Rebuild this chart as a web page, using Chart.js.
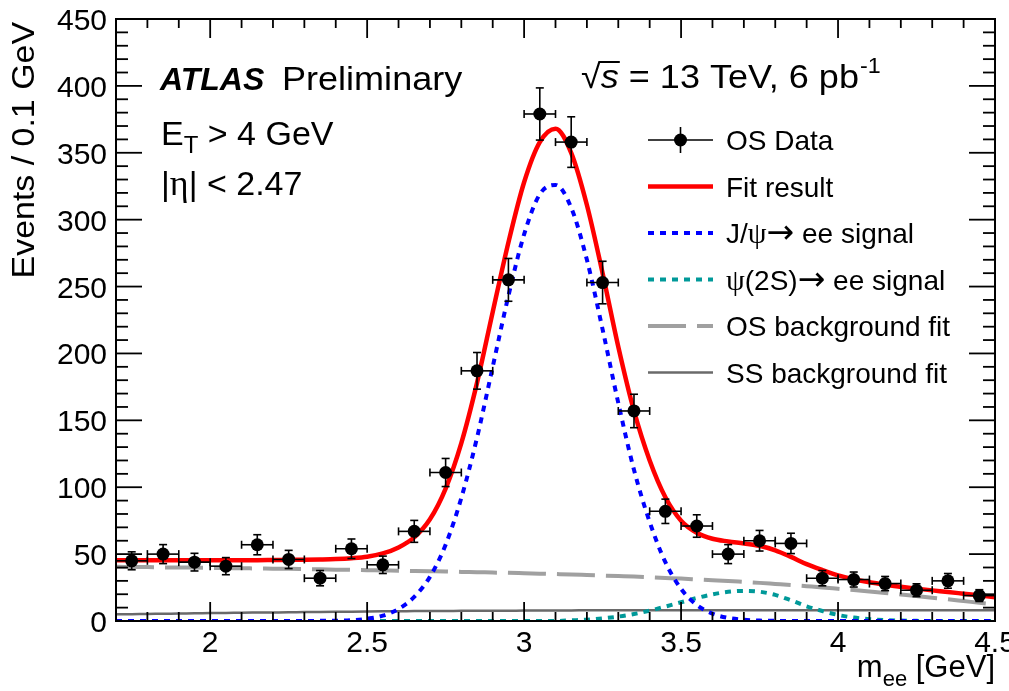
<!DOCTYPE html>
<html>
<head>
<meta charset="utf-8">
<script src="https://cdn.jsdelivr.net/npm/chart.js@4"></script>
<style>
  html, body { margin: 0; padding: 0; background: #fff; }
</style>
</head>
<body>
<canvas id="myChart" width="1009" height="691"></canvas>
<script>
// data points (bin centres, 0.1 GeV bins)
const binCenters = [1.75, 1.85, 1.95, 2.05, 2.15, 2.25, 2.35, 2.45, 2.55, 2.65, 2.75, 2.85, 2.95, 3.05,
  3.15, 3.25, 3.35, 3.45, 3.55, 3.65, 3.75, 3.85, 3.95, 4.05, 4.15, 4.25, 4.35, 4.45];
const counts = [45, 50, 44, 41, 57, 46, 32, 54, 42, 67, 111, 187, 255, 379,
  358, 253, 157, 82, 71, 50, 60, 58, 32, 31, 28, 23, 30, 19];
const countErrors = [6.7, 7.1, 6.6, 6.4, 7.5, 6.8, 5.7, 7.3, 6.5, 8.2, 10.5, 13.7, 16, 19.5,
  18.9, 15.9, 12.5, 9.1, 8.4, 7.1, 7.7, 7.6, 5.7, 5.6, 5.3, 4.8, 5.5, 4.4];
const binHalfWidth = 0.05;

// curves, sampled every 0.05 GeV
const fitX = [1.70, 1.75, 1.80, 1.85, 1.90, 1.95, 2.00, 2.05, 2.10, 2.15, 2.20, 2.25, 2.30, 2.35, 2.40,
  2.45, 2.50, 2.55, 2.60, 2.65, 2.70, 2.75, 2.80, 2.85, 2.90, 2.95, 3.00, 3.05, 3.10, 3.15, 3.20, 3.25,
  3.30, 3.35, 3.40, 3.45, 3.50, 3.55, 3.60, 3.65, 3.70, 3.75, 3.80, 3.85, 3.90, 3.95, 4.00, 4.05, 4.10,
  4.15, 4.20, 4.25, 4.30, 4.35, 4.40, 4.45, 4.50];
const fitTotal = [45.5, 45.5, 45.5, 45.5, 45.5, 45.5, 45.5, 45.5, 45.5, 45.5, 45.6, 45.7, 45.8, 46.0, 46.3,
  46.9, 48.0, 50.5, 55.0, 62.5, 76, 99, 133, 178, 231, 283, 328, 358, 368, 350, 311, 260,
  205, 157, 120, 92.5, 75, 66, 61.5, 59.5, 58, 56.2, 52.8, 47.9, 42.5, 38.1, 34.1, 31.2, 28.9,
  27.1, 25.6, 24.2, 22.9, 21.7, 20.4, 19.1, 17.8];
const jpsiSignal = [0, 0, 0, 0, 0, 0, 0, 0, 0, 0, 0, 0, 0, 0.1, 0.2,
  0.6, 1.7, 4, 9, 18, 33, 57, 92, 137, 190, 243, 289, 319, 326, 309, 270, 218,
  163, 113, 74, 44, 24, 12, 5.5, 2.3, 0.9, 0.3, 0.1, 0, 0, 0, 0, 0, 0,
  0, 0, 0, 0, 0, 0, 0, 0];
const psi2sSignal = [0, 0, 0, 0, 0, 0, 0, 0, 0, 0, 0, 0, 0, 0, 0,
  0, 0, 0, 0, 0, 0, 0, 0, 0, 0, 0, 0, 0, 0, 0.5, 1, 2,
  3.3, 5.2, 7.7, 10.8, 14, 17.2, 19.9, 21.8, 22.5, 21.9, 19.5, 15.5, 11, 7.5, 4.5, 2.6, 1.4,
  0.7, 0.3, 0.1, 0, 0, 0, 0, 0];
const osBackground = [40.5, 40.4, 40.3, 40.1, 40.0, 39.9, 39.7, 39.6, 39.4, 39.3, 39.1, 39.0, 38.8, 38.6, 38.4,
  38.2, 38.0, 37.8, 37.6, 37.4, 37.2, 37.0, 36.7, 36.5, 36.2, 36.0, 35.7, 35.4, 35.1, 34.8, 34.4, 34.0,
  33.6, 33.2, 32.7, 32.2, 31.7, 31.1, 30.5, 29.9, 29.2, 28.5, 27.7, 26.9, 26.0, 25.1, 24.1, 23.1, 22.0,
  20.9, 19.8, 18.6, 17.4, 16.2, 14.9, 13.6, 12.3];
const ssBackground = [5.0, 5.1, 5.3, 5.4, 5.6, 5.7, 5.9, 6.0, 6.2, 6.3, 6.4, 6.5, 6.7, 6.8, 6.9,
  7.0, 7.1, 7.2, 7.3, 7.4, 7.5, 7.5, 7.6, 7.6, 7.7, 7.7, 7.8, 7.8, 7.9, 7.9, 8.0, 8.0,
  8.0, 8.0, 8.0, 8.0, 8.0, 8.0, 8.0, 8.0, 8.0, 8.0, 8.0, 8.0, 8.0, 8.0, 8.0, 8.0, 8.0,
  8.0, 8.0, 8.0, 8.0, 8.0, 8.0, 8.0, 8.0];

// axes
const xTickValues = [2, 2.5, 3, 3.5, 4, 4.5];
const xTickLabels = ['2', '2.5', '3', '3.5', '4', '4.5'];
const yTickValues = [0, 50, 100, 150, 200, 250, 300, 350, 400, 450];
const yTickLabels = ['0', '50', '100', '150', '200', '250', '300', '350', '400', '450'];

const SANS = '"Liberation Sans", Arial, Helvetica, sans-serif';
const SERIF = '"Liberation Serif", "Times New Roman", serif';
const ARROW = '"DejaVu Sans", sans-serif';

const pts = (xs, ys) => xs.map((x, i) => ({ x: x, y: ys[i] }));

// rich text: runs of [text, size, dy, style, family]; stretch widens glyphs horizontally
function setFont(ctx, r) {
  ctx.font = (r[3] || '') + ' ' + r[1] + 'px ' + (r[4] || SANS);
}
function richWidth(ctx, runs, stretch) {
  let w = 0;
  for (const r of runs) {
    setFont(ctx, r);
    w += ctx.measureText(r[0]).width;
  }
  return w * (stretch || 1);
}
function richText(ctx, runs, x, y, stretch) {
  const s = stretch || 1;
  for (const r of runs) {
    setFont(ctx, r);
    ctx.save();
    ctx.translate(x, y + (r[2] || 0));
    ctx.scale(s, 1);
    ctx.fillText(r[0], 0, 0);
    ctx.restore();
    x += ctx.measureText(r[0]).width * s;
  }
  return x;
}

function line(ctx, x1, y1, x2, y2) {
  ctx.beginPath();
  ctx.moveTo(x1, y1);
  ctx.lineTo(x2, y2);
  ctx.stroke();
}

const rootStyle = {
  id: 'rootStyle',
  afterDatasetsDraw(chart) {
    const ctx = chart.ctx, xs = chart.scales.x, ys = chart.scales.y;
    ctx.save();
    ctx.strokeStyle = '#000';
    ctx.lineWidth = 1.6;
    for (let i = 0; i < binCenters.length; i++) {
      const px = xs.getPixelForValue(binCenters[i]);
      const py = ys.getPixelForValue(counts[i]);
      const x1 = xs.getPixelForValue(binCenters[i] - binHalfWidth);
      const x2 = xs.getPixelForValue(binCenters[i] + binHalfWidth);
      const y1 = ys.getPixelForValue(counts[i] + countErrors[i]);
      const y2 = ys.getPixelForValue(counts[i] - countErrors[i]);
      line(ctx, x1, py, x2, py);
      line(ctx, px, y1, px, y2);
      line(ctx, px - 4, y1, px + 4, y1);
      line(ctx, px - 4, y2, px + 4, y2);
      line(ctx, x1, py - 4, x1, py + 4);
      line(ctx, x2, py - 4, x2, py + 4);
    }
    ctx.restore();
  },
  afterDraw(chart) {
    const ctx = chart.ctx, xs = chart.scales.x, ys = chart.scales.y;
    const a = chart.chartArea;
    ctx.save();
    ctx.fillStyle = '#000';
    ctx.strokeStyle = '#000';
    ctx.lineWidth = 2;
    ctx.strokeRect(a.left, a.top, a.right - a.left, a.bottom - a.top);

    // ticks on all four sides
    ctx.lineWidth = 1.8;
    for (let k = 0; k <= 45; k++) {
      const py = ys.getPixelForValue(k * 10);
      const len = k % 5 === 0 ? 26 : 12;
      line(ctx, a.left, py, a.left + len, py);
      line(ctx, a.right, py, a.right - len, py);
    }
    for (let k = 17; k <= 45; k++) {
      const px = xs.getPixelForValue(k / 10);
      const len = k % 5 === 0 ? 19 : 9;
      line(ctx, px, a.bottom, px, a.bottom - len);
      line(ctx, px, a.top, px, a.top + len);
    }

    // tick labels
    ctx.font = '30px ' + SANS;
    ctx.textAlign = 'right';
    ctx.textBaseline = 'alphabetic';
    yTickValues.forEach((v, i) => ctx.fillText(yTickLabels[i], 107, ys.getPixelForValue(v) + 11));
    ctx.textAlign = 'center';
    xTickValues.forEach((v, i) => ctx.fillText(xTickLabels[i], xs.getPixelForValue(v), 652));

    // axis titles
    ctx.textAlign = 'left';
    const xt = [['m', 31], ['ee', 22, 9], [' [GeV]', 31]];
    richText(ctx, xt, a.right - richWidth(ctx, xt), 677);
    ctx.save();
    ctx.translate(34, 22);
    ctx.rotate(-Math.PI / 2);
    const yt = [['Events / 0.1 GeV', 32]];
    richText(ctx, yt, -richWidth(ctx, yt, 1.06), 0, 1.06);
    ctx.restore();

    // labels
    richText(ctx, [['ATLAS', 32, 0, 'italic bold']], 160, 90);
    richText(ctx, [['Preliminary', 34]], 282, 90, 1.06);
    richText(ctx, [['E', 34], ['T', 24, 8], [' > 4 GeV', 34]], 161, 145);
    richText(ctx, [['|', 34], ['\u03b7', 36, 0, '', SERIF], ['| < 2.47', 34]], 161, 195);
    const sx = richText(ctx, [['\u221a', 34]], 581, 88, 1.06);
    const ex = richText(ctx, [['s', 34, 0, 'italic']], sx, 88, 1.06);
    ctx.lineWidth = 2;
    line(ctx, sx - 1, 62, ex + 1, 62);
    const px = richText(ctx, [[' = 13 TeV, 6 pb', 34]], ex, 88, 1.06);
    richText(ctx, [['-1', 22, -15]], px + 1, 88, 1.06);

    // legend
    const rows = [140, 186.5, 233, 279.5, 326, 372.5];
    const lx1 = 648, lx2 = 713, tx = 726;
    const entries = [
      [['OS Data', 28]],
      [['Fit result', 28]],
      [['J/', 28], ['\u03c8', 30, 0, '', SERIF], ['\u2192', 33, 0, '', ARROW], [' ee signal', 28]],
      [['\u03c8', 30, 0, '', SERIF], ['(2S)', 28], ['\u2192', 33, 0, '', ARROW], [' ee signal', 28]],
      [['OS background fit', 28]],
      [['SS background fit', 28]]
    ];
    const ds = chart.data.datasets;
    rows.forEach((cy, i) => {
      ctx.save();
      if (i === 0) {
        ctx.strokeStyle = '#000';
        ctx.lineWidth = 1.6;
        line(ctx, lx1, cy, lx2, cy);
        line(ctx, (lx1 + lx2) / 2, cy - 13, (lx1 + lx2) / 2, cy + 13);
        ctx.beginPath();
        ctx.arc((lx1 + lx2) / 2, cy, 6.5, 0, Math.PI * 2);
        ctx.fill();
      } else {
        ctx.strokeStyle = ds[i].borderColor;
        ctx.lineWidth = ds[i].borderWidth;
        ctx.setLineDash(ds[i].borderDash || []);
        line(ctx, lx1, cy, lx2, cy);
      }
      ctx.restore();
      richText(ctx, entries[i], tx, cy + 10);
    });
    ctx.restore();
  }
};

const ctx = document.getElementById('myChart').getContext('2d');
const myChart = new Chart(ctx, {
  type: 'line',
  data: {
    datasets: [
      {
        label: 'OS Data',
        data: pts(binCenters, counts),
        showLine: false,
        pointRadius: 6.5,
        pointBackgroundColor: '#000',
        pointBorderColor: '#000',
        pointBorderWidth: 0,
      },
      {
        label: 'Fit result',
        data: pts(fitX, fitTotal),
        borderColor: '#ff0000',
        borderWidth: 4.5,
        pointRadius: 0,
        cubicInterpolationMode: 'monotone',
      },
      {
        label: 'J/psi signal',
        data: pts(fitX, jpsiSignal),
        borderColor: '#0000ff',
        borderWidth: 4,
        borderDash: [6, 6],
        pointRadius: 0,
        cubicInterpolationMode: 'monotone',
      },
      {
        label: 'psi(2S) signal',
        data: pts(fitX, psi2sSignal),
        borderColor: '#009999',
        borderWidth: 4,
        borderDash: [6, 6],
        pointRadius: 0,
        cubicInterpolationMode: 'monotone',
      },
      {
        label: 'OS background fit',
        data: pts(fitX, osBackground),
        borderColor: '#a0a0a0',
        borderWidth: 4,
        borderDash: [38, 11],
        pointRadius: 0,
        cubicInterpolationMode: 'monotone',
      },
      {
        label: 'SS background fit',
        data: pts(fitX, ssBackground),
        borderColor: '#6a6a6a',
        borderWidth: 2.5,
        pointRadius: 0,
        cubicInterpolationMode: 'monotone',
      },
    ],
  },
  options: {
    responsive: false,
    animation: false,
    layout: { padding: { left: 116, top: 19, right: 14, bottom: 70 } },
    plugins: { legend: { display: false }, tooltip: { enabled: false } },
    scales: {
      x: { type: 'linear', min: 1.7, max: 4.5, display: false },
      y: { type: 'linear', min: 0, max: 450, display: false },
    },
  },
  plugins: [rootStyle],
});
</script>
</body>
</html>
